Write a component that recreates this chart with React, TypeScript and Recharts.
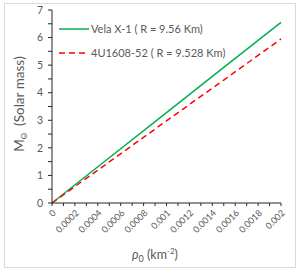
import React from 'react';
import { LineChart, Line, XAxis, YAxis } from 'recharts';

// rho_0 (km^-2) sample points
const rho = [0, 0.0005, 0.001, 0.0015, 0.002];
const velaMass = [0, 1.64, 3.28, 4.92, 6.55];
const u1608Mass = [0, 1.49, 2.98, 4.46, 5.95];

const xTicks = [
  0, 0.0001, 0.0002, 0.0003, 0.0004, 0.0005, 0.0006, 0.0007, 0.0008, 0.0009, 0.001,
  0.0011, 0.0012, 0.0013, 0.0014, 0.0015, 0.0016, 0.0017, 0.0018, 0.0019, 0.002,
];
const xLabels = ['0', '0.0002', '0.0004', '0.0006', '0.0008', '0.001', '0.0012', '0.0014', '0.0016', '0.0018', '0.002'];
const yTicks = [0, 0.5, 1, 1.5, 2, 2.5, 3, 3.5, 4, 4.5, 5, 5.5, 6, 6.5, 7];

const seriesNames = ['Vela X-1 ( R = 9.56 Km)', '4U1608-52 ( R = 9.528 Km)'];

const data = rho.map((r, i) => ({ rho: r, vela: velaMass[i], u1608: u1608Mass[i] }));

const FONT = 'Lato, "Open Sans", sans-serif';
const GREEN = '#00b050';
const RED = '#ff0000';
const TEXT = '#595959';

function xLabel(v: number) {
  const idx = Math.round(v * 10000);
  return idx % 2 === 0 ? xLabels[idx / 2] : '';
}

// legend drawn as an overlay so it does not eat into the plot area
function LegendBox() {
  return (
    <svg width={200} height={40} style={{ position: 'absolute', left: 58, top: 22 }}>
      <line x1={1} x2={31} y1={7} y2={7} stroke={GREEN} strokeWidth={1.5} />
      <text x={33} y={11} fontSize={11} fill={TEXT} fontFamily={FONT}>
        {seriesNames[0]}
      </text>
      <line x1={1} x2={31} y1={31} y2={31} stroke={RED} strokeWidth={1.5} strokeDasharray="6 4" />
      <text x={33} y={35} fontSize={11} fill={TEXT} fontFamily={FONT}>
        {seriesNames[1]}
      </text>
    </svg>
  );
}

export default function App() {
  return (
    <div style={{ position: 'absolute', left: 0, top: 0, width: 300, height: 276, background: '#fff' }}>
      <div
        style={{
          position: 'absolute',
          left: 4,
          top: 3,
          width: 290,
          height: 263,
          border: '1px solid #d9d9d9',
        }}
      />
      <LineChart
        width={300}
        height={276}
        data={data}
        margin={{ top: 10, right: 19, left: 22, bottom: 28 }}
        style={{ position: 'absolute', left: 0, top: 0, fontFamily: FONT }}
      >
        <XAxis
          dataKey="rho"
          type="number"
          domain={[0, 0.002]}
          ticks={xTicks}
          interval={0}
          tickFormatter={xLabel}
          tickSize={3}
          tickMargin={3}
          height={45}
          angle={-45}
          textAnchor="end"
          axisLine={{ stroke: '#262626' }}
          tickLine={{ stroke: '#262626' }}
          tick={{ fill: TEXT, fontSize: 9 }}
          label={{
            content: () => (
              <text x={132} y={259} fontSize={12.5} fill={TEXT} fontFamily={FONT}>
                <tspan fontStyle="italic">ρ</tspan>
                <tspan fontSize={9} dy={3}>0</tspan>
                <tspan dy={-3}>{'\u00a0(km'}</tspan>
                <tspan fontSize={8} dy={-5}>-2</tspan>
                <tspan dy={5}>)</tspan>
              </text>
            ),
          }}
        />
        <YAxis
          type="number"
          domain={[0, 7]}
          ticks={yTicks}
          interval={0}
          width={30}
          tickSize={4}
          tickMargin={5}
          tickFormatter={(v: number) => (Number.isInteger(v) ? String(v) : '')}
          axisLine={{ stroke: '#262626' }}
          tickLine={{ stroke: '#262626' }}
          tick={{ fill: TEXT, fontSize: 10.5 }}
          label={{
            content: () => (
              <text
                x={24}
                y={104}
                transform="rotate(-90 24 104)"
                textAnchor="middle"
                fontSize={13.5}
                fill={TEXT}
                fontFamily={FONT}
              >
                <tspan>M</tspan>
                <tspan fontSize={8} dy={3}>Θ</tspan>
                <tspan dy={-3}>{'\u00a0\u00a0(Solar mass)'}</tspan>
              </text>
            ),
          }}
        />
        <Line
          dataKey="vela"
          name={seriesNames[0]}
          stroke={GREEN}
          strokeWidth={1.5}
          dot={false}
          isAnimationActive={false}
        />
        <Line
          dataKey="u1608"
          name={seriesNames[1]}
          stroke={RED}
          strokeWidth={1.5}
          strokeDasharray="6 4"
          dot={false}
          isAnimationActive={false}
        />
      </LineChart>
      <LegendBox />
    </div>
  );
}
